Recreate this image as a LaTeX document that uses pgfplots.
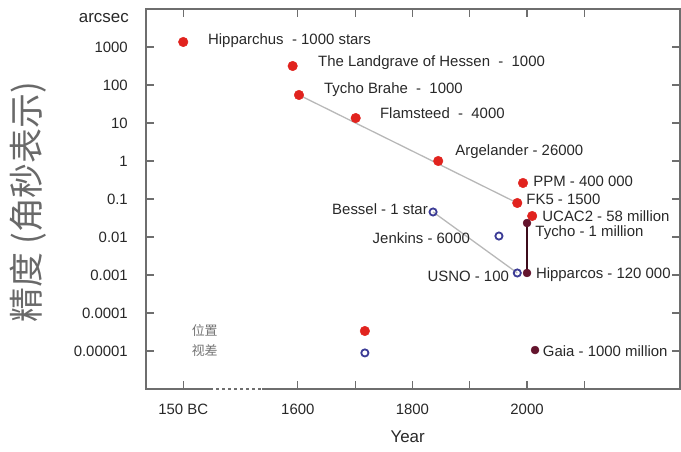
\documentclass[border=0pt]{standalone}
\usepackage{pgfplots}
\pgfplotsset{compat=1.18}
\usepackage{fontspec}
\setmainfont{Liberation Sans}
\newfontfamily\cjk{Noto Sans CJK SC}
\definecolor{ptred}{RGB}{225,35,30}
\definecolor{ptblue}{RGB}{60,60,150}
\definecolor{ptmaroon}{RGB}{100,20,45}
\definecolor{axgray}{RGB}{110,110,110}
\definecolor{txt}{RGB}{40,40,40}
\definecolor{lblgray}{RGB}{105,105,105}
\newcommand{\lf}{\fontsize{15}{18}\selectfont}
\begin{document}
\begin{tikzpicture}[x=1bp,y=1bp]
\useasboundingbox (-146,-63) rectangle (535,389);
\begin{axis}[at={(0,0)}, anchor=south west, scale only axis,
  width=534bp, height=380bp,
  xmin=1335, xmax=2267, ymode=log, ymin=1e-6, ymax=1e4,
  clip=false,
  axis line style={axgray, line width=1.3bp},
  every tick/.style={axgray, line width=1.2bp},
  tick align=inside, major tick length=8bp,
  yminorticks=false, xminorticks=false,
  xtick={1400,1600,1700,1800,1900,2000,2100},
  xticklabels={150 BC,1600,,1800,,2000,},
  ytick={1e-5,1e-4,1e-3,1e-2,1e-1,1,10,100,1000},
  yticklabels={0.00001,0.0001,0.001,0.01,0.1,1,10,100,1000},
  yticklabel style={font=\lf, text=txt, inner sep=0pt, xshift=-18bp},
  xticklabel style={font=\lf, text=txt, inner sep=0pt, anchor=north, yshift=-15bp},
]
% connecting lines
\addplot[black!28, line width=1.3bp] coordinates {(1602,54.6) (1983,0.0785)};
\addplot[black!28, line width=1.3bp] coordinates {(1836,0.0455) (1983,0.00113)};
\addplot[ptmaroon!60!black, line width=1.8bp] coordinates {(2000,0.0233) (2000,0.00113)};
% position (red)
\addplot[only marks, mark=*, mark size=4.8bp, color=ptred] coordinates {
 (1400,1355) (1591,316) (1602,54.6) (1701,13.5) (1845,1.0)
 (1993,0.264) (1983,0.0785) (2009,0.0357) (1717,3.36e-5)};
% parallax (blue open)
\addplot[only marks, mark=o, mark size=3.6bp, line width=1.8bp, color=ptblue] coordinates {
 (1836,0.0455) (1951,0.0106) (1983,0.00113) (1717,8.9e-6)};
% maroon
\addplot[only marks, mark=*, mark size=4bp, color=ptmaroon] coordinates {
 (2000,0.0233) (2000,0.00113) (2014,1.06e-5)};
% axis break
\draw[white, line width=3bp] (rel axis cs:0.12,0) -- (rel axis cs:0.217,0);
\draw[axgray, line width=1.3bp, dash pattern=on 3bp off 3bp] (rel axis cs:0.12,0) -- (rel axis cs:0.217,0);
% labels
\begin{scope}[every node/.style={font=\lf, text=txt, inner sep=0pt}]
\node[anchor=west] at (rel axis cs:0.116,0.918) {Hipparchus\ \ - 1000 stars};
\node[anchor=west] at (rel axis cs:0.322,0.860) {The Landgrave of Hessen\ \ -\ \ 1000};
\node[anchor=west] at (rel axis cs:0.333,0.789) {Tycho Brahe\ \ -\ \ 1000};
\node[anchor=west] at (rel axis cs:0.438,0.726) {Flamsteed\ \ -\ \ 4000};
\node[anchor=west] at (rel axis cs:0.579,0.624) {Argelander - 26000};
\node[anchor=west] at (rel axis cs:0.725,0.547) {PPM - 400 000};
\node[anchor=west] at (rel axis cs:0.712,0.500) {FK5 - 1500};
\node[anchor=west] at (rel axis cs:0.742,0.454) {UCAC2 - 58 million};
\node[anchor=west] at (rel axis cs:0.729,0.412) {Tycho - 1 million};
\node[anchor=east] at (rel axis cs:0.528,0.474) {Bessel - 1 star};
\node[anchor=east] at (rel axis cs:0.607,0.397) {Jenkins - 6000};
\node[anchor=east] at (rel axis cs:0.680,0.297) {USNO - 100};
\node[anchor=west] at (rel axis cs:0.730,0.300) {Hipparcos - 120 000};
\node[anchor=west] at (rel axis cs:0.743,0.100) {Gaia - 1000 million};
\end{scope}
\node[font=\cjk\fontsize{13}{14}\selectfont, text=black!55] at (rel axis cs:0.110,0.155) {位置};
\node[font=\cjk\fontsize{13}{14}\selectfont, text=black!55] at (rel axis cs:0.110,0.100) {视差};
\node[font=\fontsize{17}{18}\selectfont, text=txt, inner sep=0pt, anchor=east, xshift=-17bp, yshift=-9bp] at (rel axis cs:0,1) {arcsec};
\node[font=\fontsize{17}{18}\selectfont, text=txt, yshift=-48bp] at (rel axis cs:0.49,0) {Year};
\node[font=\cjk\fontsize{35}{38}\selectfont, text=lblgray, xshift=-118bp, rotate=90] at (rel axis cs:0,0.492) {精度 (角秒表示)};
\end{axis}
\end{tikzpicture}
\end{document}
